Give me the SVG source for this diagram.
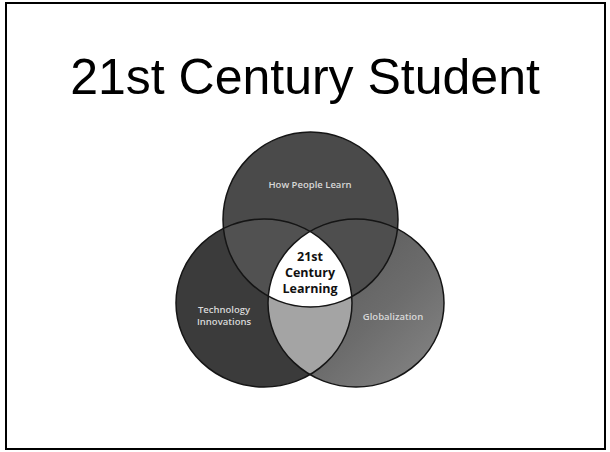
<svg xmlns="http://www.w3.org/2000/svg" width="610" height="452" viewBox="0 0 610 452">
<style>
.title{font-family:"Liberation Sans",Arial,sans-serif;font-size:50px;fill:#000}
.lbl{font-family:"Open Sans","DejaVu Sans",sans-serif;font-weight:600;font-size:9.5px;fill:#d8d8d8;text-anchor:middle}
.ctr{font-family:"Open Sans","DejaVu Sans",sans-serif;font-weight:700;font-size:12.5px;fill:#111;text-anchor:middle}
.ol{fill:none;stroke:#151515;stroke-width:1.5}
</style>
<defs>
<linearGradient id="gR" x1="0" y1="0" x2="1" y2="1">
<stop offset="0" stop-color="#505050"/>
<stop offset="0.6" stop-color="#6c6c6c"/>
<stop offset="1" stop-color="#888"/>
</linearGradient>
<clipPath id="cL"><ellipse cx="264" cy="303" rx="88" ry="84"/></clipPath>
<clipPath id="cR"><ellipse cx="356" cy="303" rx="88" ry="84"/></clipPath>
<clipPath id="cT"><circle cx="310.5" cy="219.5" r="87.5"/></clipPath>
</defs>
<rect x="6" y="3" width="599" height="446" fill="#fff" stroke="#000" stroke-width="2"/>
<text class="title" x="305" y="94" text-anchor="middle">21st Century Student</text>
<g id="fills">
<ellipse cx="264" cy="303" rx="88" ry="84" fill="#3b3b3b"/>
<ellipse cx="356" cy="303" rx="88" ry="84" fill="url(#gR)"/>
<circle cx="310.5" cy="219.5" r="87.5" fill="#4a4a4a"/>
<circle cx="310.5" cy="219.5" r="87.5" fill="#515151" clip-path="url(#cL)"/>
<circle cx="310.5" cy="219.5" r="87.5" fill="#4e4e4e" clip-path="url(#cR)"/>
<ellipse cx="264" cy="303" rx="88" ry="84" fill="#a4a4a4" clip-path="url(#cR)"/>
<g clip-path="url(#cT)"><ellipse cx="264" cy="303" rx="88" ry="84" fill="#fff" clip-path="url(#cR)"/></g>
</g>
<g id="how-people-learn">
<circle class="ol" cx="310.5" cy="219.5" r="87.5"/>
<text class="lbl" x="310" y="188">How People Learn</text>
</g>
<g id="technology-innovations">
<ellipse class="ol" cx="264" cy="303" rx="88" ry="84"/>
<text class="lbl" x="224" y="313">Technology</text>
<text class="lbl" x="224" y="325">Innovations</text>
</g>
<g id="globalization">
<ellipse class="ol" cx="356" cy="303" rx="88" ry="84"/>
<text class="lbl" x="393" y="320">Globalization</text>
</g>
<g id="center">
<text class="ctr" x="310" y="261">21st</text>
<text class="ctr" x="310" y="277">Century</text>
<text class="ctr" x="310" y="293">Learning</text>
</g>
</svg>
